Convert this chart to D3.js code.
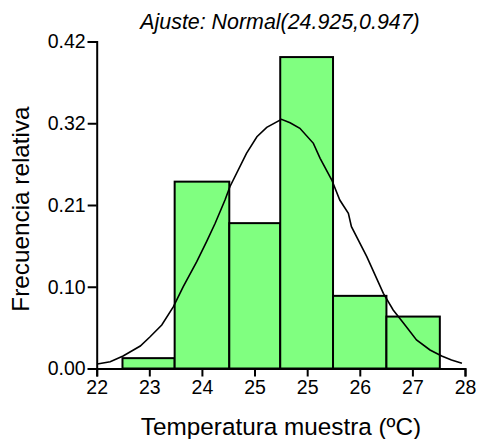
<!DOCTYPE html>
<html>
<head>
<meta charset="utf-8">
<script src="https://cdn.jsdelivr.net/npm/d3@7"></script>
<style>
  html, body { margin: 0; padding: 0; background: #fff; }
  svg { display: block; font-family: "Liberation Sans", Arial, sans-serif; }
</style>
</head>
<body>
<svg id="chart" width="478" height="439"></svg>
<script>
// ---- data ----
const binEdges = [22.42, 23.27, 24.16, 24.99, 25.85, 26.72, 27.59];
const relFreq = [0.0133, 0.24, 0.1867, 0.40, 0.0933, 0.0667];
const curveX = [22.01, 22.22, 22.43, 22.71, 22.87, 23.06, 23.25, 23.41, 23.63, 23.79, 23.93, 24.09, 24.17, 24.44, 24.61, 24.77, 25.01, 25.15, 25.31, 25.53, 25.64, 25.83, 25.96, 26.10, 26.15, 26.40, 26.67, 26.83, 27.00, 27.21, 27.43, 27.62, 27.78, 27.95];
const curveY = [0.0058, 0.0087, 0.0161, 0.0289, 0.0408, 0.0559, 0.0794, 0.1051, 0.1372, 0.1629, 0.1865, 0.2164, 0.2335, 0.2764, 0.2977, 0.3098, 0.3201, 0.3157, 0.3085, 0.2892, 0.2700, 0.2421, 0.2164, 0.1993, 0.1821, 0.1436, 0.0966, 0.0751, 0.0581, 0.0366, 0.0238, 0.0161, 0.0109, 0.0067];
const xTickValues = [22, 22.857, 23.714, 24.571, 25.429, 26.286, 27.143, 28];
const xTickLabels = ["22", "23", "24", "25", "25", "26", "27", "28"];
const yTickValues = [0, 0.105, 0.21, 0.315, 0.42];
const yTickLabels = ["0.00", "0.10", "0.21", "0.32", "0.42"];
const titleText = "Ajuste: Normal(24.925,0.947)";
const xTitle = "Temperatura muestra (ºC)";
const yTitle = "Frecuencia relativa";

// ---- scales ----
const svg = d3.select("#chart");
const x = d3.scaleLinear().domain([22, 28]).range([96.7, 465]);
const y = d3.scaleLinear().domain([0, 0.42]).range([368.5, 41.5]);

// ---- bars ----
const bins = relFreq.map((v, i) => ({ x0: binEdges[i], x1: binEdges[i + 1], v }));
svg.append("g").selectAll("rect").data(bins).join("rect")
  .attr("x", d => x(d.x0))
  .attr("y", d => y(d.v))
  .attr("width", d => x(d.x1) - x(d.x0))
  .attr("height", d => y(0) - y(d.v))
  .attr("fill", "#80ff80")
  .attr("stroke", "#000")
  .attr("stroke-width", 2);

// ---- curve ----
const pts = curveX.map((cx, i) => [cx, curveY[i]]);
svg.append("path")
  .datum(pts)
  .attr("fill", "none")
  .attr("stroke", "#000")
  .attr("stroke-width", 1.6)
  .attr("d", d3.line().x(d => x(d[0])).y(d => y(d[1])));

// ---- axes ----
const xAxis = d3.axisBottom(x)
  .tickValues(xTickValues)
  .tickFormat((d, i) => xTickLabels[i])
  .tickSizeOuter(0)
  .tickSize(8)
  .tickPadding(4);
const gx = svg.append("g").attr("transform", `translate(0,${y(0)})`).call(xAxis);
gx.select(".domain").attr("stroke-width", 2);
gx.selectAll(".tick line").attr("stroke-width", 2);
gx.selectAll("text").attr("font-size", 19.5).attr("font-family", "Liberation Sans, Arial, sans-serif").attr("fill", "#000");

const yAxis = d3.axisLeft(y)
  .tickValues(yTickValues)
  .tickFormat((d, i) => yTickLabels[i])
  .tickSizeOuter(0)
  .tickSize(9)
  .tickPadding(2);
const gy = svg.append("g").attr("transform", `translate(${x(22)},0)`).call(yAxis);
gy.select(".domain").attr("stroke-width", 2);
gy.selectAll(".tick line").attr("stroke-width", 2);
gy.selectAll("text").attr("font-size", 19.5).attr("font-family", "Liberation Sans, Arial, sans-serif").attr("fill", "#000");

// ---- titles ----
svg.append("text")
  .attr("x", 280).attr("y", 29)
  .attr("text-anchor", "middle")
  .attr("font-size", 21.4)
  .attr("font-style", "italic")
  .text(titleText);

svg.append("text")
  .attr("x", 281).attr("y", 435)
  .attr("text-anchor", "middle")
  .attr("font-size", 24.3)
  .text(xTitle);

svg.append("text")
  .attr("transform", "translate(29,209) rotate(-90)")
  .attr("text-anchor", "middle")
  .attr("font-size", 24.3)
  .text(yTitle);
</script>
</body>
</html>
